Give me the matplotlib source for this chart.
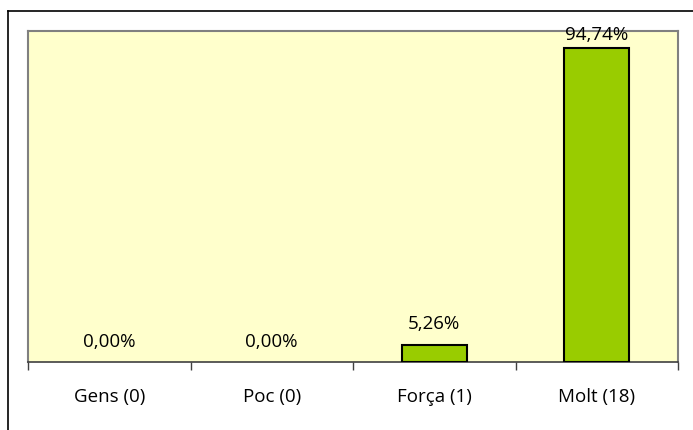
import matplotlib
matplotlib.use("Agg")
import matplotlib.pyplot as plt
from matplotlib.lines import Line2D

categories = ["Gens (0)", "Poc (0)", "Força (1)", "Molt (18)"]
percentages = [0.00, 0.00, 5.26, 94.74]
value_labels = ["0,00%", "0,00%", "5,26%", "94,74%"]

plt.rcParams["font.family"] = ["Open Sans", "DejaVu Sans"]

W, H = 693, 430
fig = plt.figure(figsize=(W / 100, H / 100), dpi=100)
fig.patch.set_facecolor("white")

# outer chart frame (cut off right and bottom)
fig.add_artist(Line2D([8 / W, 8 / W], [0, 1 - 11 / H], transform=fig.transFigure,
                      color="black", lw=1.2))
fig.add_artist(Line2D([8 / W, 1], [1 - 11 / H, 1 - 11 / H], transform=fig.transFigure,
                      color="black", lw=1.2))

ax = fig.add_axes([28 / W, 1 - 362 / H, (678 - 28) / W, (362 - 31) / H])
ax.set_facecolor("#FFFFCC")

x = list(range(len(categories)))
bars = ax.bar(x, percentages, width=0.4, color="#99CC00", edgecolor="black",
              linewidth=1.5, zorder=3)
for b, val in zip(bars, percentages):
    if val == 0:
        b.set_visible(False)

for xi, val, lab in zip(x, percentages, value_labels):
    # labels near the top get pushed down to stay inside the chart
    off = 6 if val > 90 else 11
    ax.annotate(lab, (xi, val), xytext=(0, off), textcoords="offset points",
                ha="center", va="baseline", fontsize=13.5, color="black",
                annotation_clip=False, zorder=4)

ax.set_xlim(-0.5, len(categories) - 0.5)
ax.set_ylim(0, 100)
ax.set_yticks([])

ax.set_xticks(x)
ax.set_xticklabels(categories, fontsize=13.5)
ax.tick_params(axis="x", which="major", length=0, pad=19)
ax.set_xticks([i - 0.5 for i in range(len(categories) + 1)], minor=True)
ax.tick_params(axis="x", which="minor", length=6, width=1, color="#404040")

for side in ["top", "left", "right"]:
    ax.spines[side].set_color("#808080")
    ax.spines[side].set_linewidth(1.5)
ax.spines["bottom"].set_color("#404040")
ax.spines["bottom"].set_linewidth(1.2)

fig.savefig("out.png", dpi=100)
plt.close(fig)
